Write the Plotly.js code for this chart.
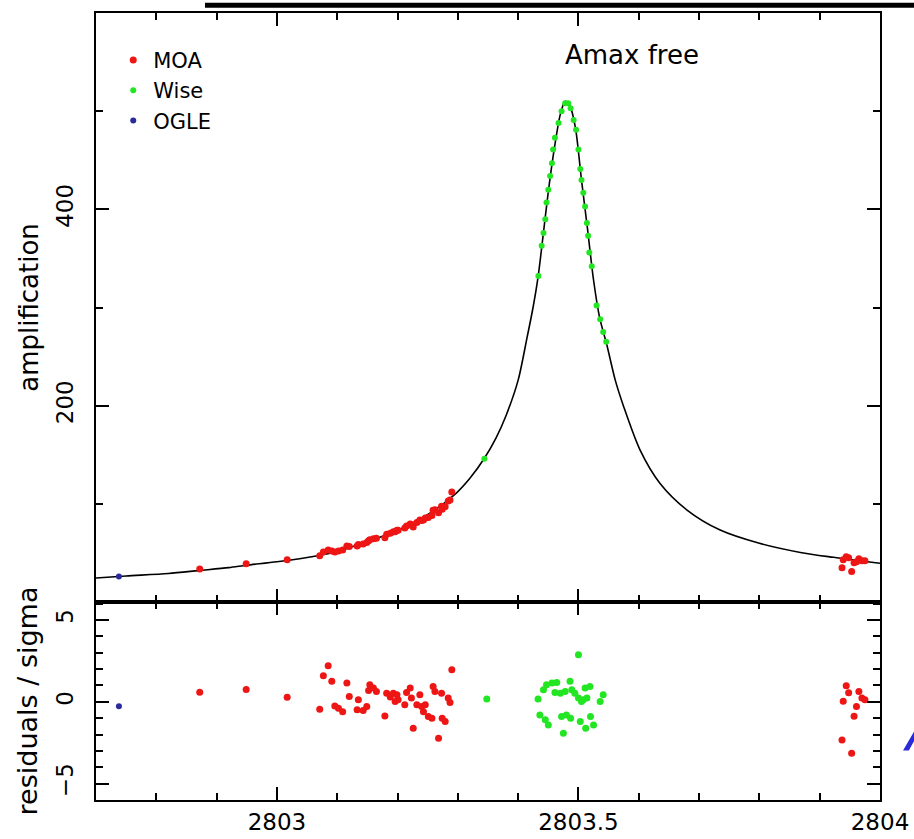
<!DOCTYPE html>
<html>
<head>
<meta charset="utf-8">
<script src="https://cdn.plot.ly/plotly-3.0.1.min.js"></script>
<style>html,body{margin:0;padding:0;background:#fff;}#chart{width:914px;height:839px;}</style>
</head>
<body>
<div id="chart"></div>
<script>
// ---- model curve ----
const curveT = [2802.700, 2802.750, 2802.820, 2802.870, 2802.920, 2802.950, 2803.000, 2803.065, 2803.100, 2803.142,
  2803.198, 2803.253, 2803.297, 2803.320, 2803.344, 2803.363, 2803.380, 2803.400, 2803.414, 2803.425,
  2803.433, 2803.440, 2803.450, 2803.460, 2803.470, 2803.478, 2803.486, 2803.495, 2803.505, 2803.515,
  2803.525, 2803.535, 2803.547, 2803.561, 2803.575, 2803.602, 2803.635, 2803.680, 2803.735, 2803.800,
  2803.868, 2803.923, 2804.000];
const curveA = [24.5, 26.5, 29, 32, 35, 37.5, 41, 46.9, 51.5, 59.8,
  72.3, 90.3, 110.7, 126, 146.4, 166.7, 190, 226, 267, 301,
  331, 366, 418, 462, 497, 510, 505, 483, 430, 380,
  328, 290, 262, 226, 199, 155, 121, 93.7, 73.3, 59.8,
  50.5, 45.5, 39.4];

// ---- MOA ----
const moaT = [2802.872, 2802.949, 2803.017,
  2803.071, 2803.077, 2803.085, 2803.091, 2803.096, 2803.102, 2803.109, 2803.116, 2803.120, 2803.133,
  2803.135, 2803.143, 2803.149, 2803.152, 2803.154, 2803.160, 2803.165, 2803.179, 2803.182, 2803.188,
  2803.193, 2803.196, 2803.199, 2803.201, 2803.212, 2803.215, 2803.221, 2803.223, 2803.226, 2803.232,
  2803.237, 2803.240, 2803.243, 2803.246, 2803.251, 2803.257, 2803.259, 2803.262, 2803.268, 2803.273,
  2803.274, 2803.279, 2803.284, 2803.287, 2803.290,
  2803.937, 2803.939, 2803.944, 2803.948, 2803.953, 2803.957, 2803.961, 2803.965, 2803.970, 2803.975];
const moaA = [33.5, 39, 43,
  47, 51, 53, 52, 51, 52, 53, 57, 56.5, 57,
  58.5, 59, 60.5, 62.5, 63.5, 64.5, 65, 65.5, 69, 70,
  71.5, 71.5, 73, 73, 75.5, 77.5, 79.5, 79, 76.5, 81,
  83.5, 83, 83.5, 85.5, 86, 88, 93.5, 94, 91, 97.5,
  94.5, 97, 103, 104, 112,
  35, 43, 46, 45, 31, 40, 41, 44, 42, 42];
const moaRes = [0.59, 0.76, 0.28,
  -0.45, 1.6, 2.2, 1.25, -0.25, -0.39, -0.6, 1.15, 0.33, -0.49,
  0.12, -0.53, -0.29, 0.69, 1.04, 0.84, 0.63, -0.86, 0.53, 0.29,
  0.53, 0.02, 0.43, 0.12, -0.18, 0.57, 0.84, 0.23, -1.61, -0.18,
  0.43, -0.29, -0.6, -0.18, -0.9, -1.0, 0.94, 0.63, -2.23, 0.53,
  -1.0, -1.21, 0.23, -0.04, 1.96,
  -2.33, 0.04, 0.98, 0.55, -3.15, -0.88, -0.29, 0.63, 0.23, 0.12];

// ---- Wise ----
const wiseT = [2803.344, 2803.4335, 2803.439, 2803.442, 2803.445, 2803.447, 2803.450, 2803.453, 2803.456, 2803.458,
  2803.461, 2803.467, 2803.472, 2803.478, 2803.483, 2803.487, 2803.492, 2803.496, 2803.500, 2803.503,
  2803.505, 2803.508, 2803.511, 2803.514, 2803.516, 2803.518, 2803.522, 2803.530, 2803.536, 2803.541, 2803.546];
const wiseA = [146, 332, 363, 376, 390, 407, 420, 434, 447, 461,
  473, 488, 500, 508, 508, 503, 491, 481, 461, 441,
  430, 417, 403, 386, 373, 356, 342, 302, 288, 275, 265];
const wiseResT = [2803.348, 2803.433, 2803.436, 2803.442, 2803.445, 2803.447, 2803.450, 2803.456, 2803.461, 2803.464,
  2803.470, 2803.472, 2803.475, 2803.478, 2803.480, 2803.486, 2803.487, 2803.489, 2803.494, 2803.500,
  2803.500, 2803.503, 2803.505, 2803.508, 2803.511, 2803.512, 2803.514, 2803.519, 2803.520, 2803.525,
  2803.536, 2803.541];
const wiseRes = [0.17, 0.17, -0.8, 0.74, -1.1, 1.04, -1.41, 1.15, 0.57, 1.18,
  0.53, -0.9, -1.92, 0.63, -0.8, 1.25, -1.0, 0.74, 0.53, 0.23,
  2.88, -1.21, 0.02, 0.12, 0.84, -1.61, 0.23, 0.94, -0.9, -1.41,
  0.02, 0.43];

// ---- OGLE ----
const ogleT = [2802.738];
const ogleA = [26];
const ogleRes = [-0.27];

// ---- axes ticks ----
const xRange = [2802.7, 2804.0];
const ampTicks = [200, 400];
const resTicks = [-5, 0, 5];

const RED = '#ee1515', GREEN = '#22e622', BLUE = '#2a2a9c';
const FONT = 'DejaVu Sans, Arial, sans-serif';

const traces = [
  {x: curveT, y: curveA, xaxis: 'x2', yaxis: 'y2', mode: 'lines', line: {color: '#000', width: 1.6, shape: 'spline', smoothing: 0.8}, showlegend: false, hoverinfo: 'skip'},
  {x: moaT, y: moaA, xaxis: 'x2', yaxis: 'y2', mode: 'markers', name: 'MOA', marker: {color: RED, size: 7}},
  {x: wiseT, y: wiseA, xaxis: 'x2', yaxis: 'y2', mode: 'markers', name: 'Wise', marker: {color: GREEN, size: 6}},
  {x: ogleT, y: ogleA, xaxis: 'x2', yaxis: 'y2', mode: 'markers', name: 'OGLE', marker: {color: BLUE, size: 6}},
  {x: moaT, y: moaRes, xaxis: 'x', yaxis: 'y', mode: 'markers', showlegend: false, marker: {color: RED, size: 7}},
  {x: wiseResT, y: wiseRes, xaxis: 'x', yaxis: 'y', mode: 'markers', showlegend: false, marker: {color: GREEN, size: 7}},
  {x: ogleT, y: ogleRes, xaxis: 'x', yaxis: 'y', mode: 'markers', showlegend: false, marker: {color: BLUE, size: 6}}
];

const axCommon = {
  showline: true, linecolor: '#000', linewidth: 2, mirror: 'allticks',
  ticks: 'inside', ticklen: 13, tickwidth: 2, tickcolor: '#000',
  showgrid: false, zeroline: false,
  tickfont: {family: FONT, size: 23, color: '#000'}
};

const layout = {
  width: 914, height: 839,
  margin: {l: 96, r: 34, t: 13, b: 39},
  paper_bgcolor: '#fff', plot_bgcolor: '#fff',
  font: {family: FONT, color: '#000'},
  xaxis: Object.assign({}, axCommon, {
    domain: [0, 1], anchor: 'y', range: xRange, tickmode: 'linear', tick0: 2803, dtick: 0.5,
    tickformat: '.5~g', ticklabelstandoff: 0,
    minor: {ticks: 'inside', ticklen: 7, tickwidth: 2, tickcolor: '#000', tick0: 2803, dtick: 0.1, showgrid: false}
  }),
  xaxis2: Object.assign({}, axCommon, {
    domain: [0, 1], anchor: 'y2', matches: 'x', range: xRange, tickmode: 'linear', tick0: 2803, dtick: 0.5,
    showticklabels: false,
    minor: {ticks: 'inside', ticklen: 7, tickwidth: 2, tickcolor: '#000', tick0: 2803, dtick: 0.1, showgrid: false}
  }),
  yaxis: Object.assign({}, axCommon, {
    domain: [0, 0.2516], anchor: 'x', range: [-6, 6.1], tickmode: 'array', tickvals: resTicks,
    tickangle: -90, ticklabelstandoff: 12,
    title: {text: 'residuals / sigma', font: {family: FONT, size: 27, color: '#000'}, standoff: 6},
    minor: {ticks: 'inside', ticklen: 7, tickwidth: 2, tickcolor: '#000', tick0: 0, dtick: 1, showgrid: false}
  }),
  yaxis2: Object.assign({}, axCommon, {
    domain: [0.2516, 1], anchor: 'x2', range: [0, 600], tickmode: 'array', tickvals: ampTicks,
    tickangle: -90, ticklabelstandoff: 12,
    title: {text: 'amplification', font: {family: FONT, size: 26, color: '#000'}, standoff: 6},
    minor: {ticks: 'inside', ticklen: 7, tickwidth: 2, tickcolor: '#000', tick0: 0, dtick: 100, showgrid: false}
  }),
  legend: {
    x: 0.022, y: 0.966, xanchor: 'left', yanchor: 'top',
    font: {family: FONT, size: 21, color: '#000'},
    bgcolor: 'rgba(0,0,0,0)', borderwidth: 0, itemwidth: 30
  },
  annotations: [
    {text: 'Amax free', xref: 'paper', yref: 'paper', x: 0.684, y: 0.947, showarrow: false,
     font: {family: FONT, size: 26, color: '#000'}, xanchor: 'center', yanchor: 'middle'},
    {text: '<i>A</i>', xref: 'paper', yref: 'paper', x: 1.027, y: 0.045, showarrow: false,
     font: {family: FONT, size: 56, color: '#2a2ad8'}, xanchor: 'left', yanchor: 'bottom'}
  ],
  shapes: [
    {type: 'line', xref: 'paper', yref: 'paper', x0: 0.139, x1: 1.06, y0: 1.01, y1: 1.01, line: {color: '#000', width: 5}}
  ],
  showlegend: true
};

Plotly.newPlot('chart', traces, layout, {displayModeBar: false, staticPlot: true});
</script>
</body>
</html>
